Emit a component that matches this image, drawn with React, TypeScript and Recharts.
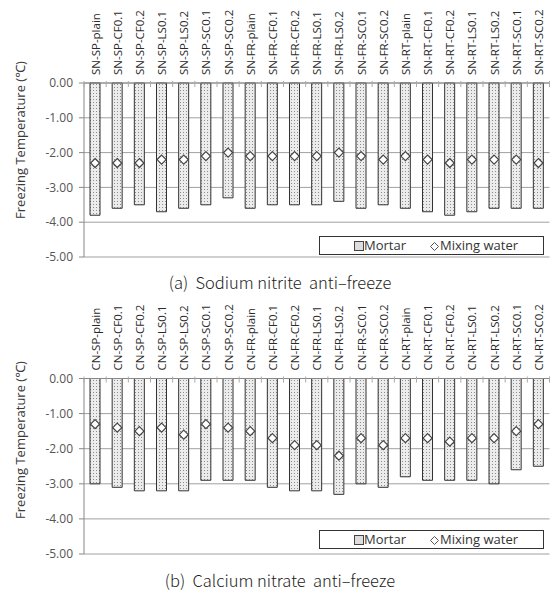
import React from 'react';
import { ComposedChart, Bar, Line, XAxis, YAxis, CartesianGrid } from 'recharts';

// category labels for the two anti-freeze series
const snCategories = [
  'SN-SP-plain', 'SN-SP-CF0.1', 'SN-SP-CF0.2', 'SN-SP-LS0.1', 'SN-SP-LS0.2', 'SN-SP-SC0.1', 'SN-SP-SC0.2',
  'SN-FR-plain', 'SN-FR-CF0.1', 'SN-FR-CF0.2', 'SN-FR-LS0.1', 'SN-FR-LS0.2', 'SN-FR-SC0.1', 'SN-FR-SC0.2',
  'SN-RT-plain', 'SN-RT-CF0.1', 'SN-RT-CF0.2', 'SN-RT-LS0.1', 'SN-RT-LS0.2', 'SN-RT-SC0.1', 'SN-RT-SC0.2',
];
const snMortar = [-3.8, -3.6, -3.5, -3.7, -3.6, -3.5, -3.3, -3.6, -3.5, -3.5, -3.5, -3.4, -3.6, -3.5, -3.6, -3.7, -3.8, -3.7, -3.6, -3.6, -3.6];
const snWater = [-2.3, -2.3, -2.3, -2.2, -2.2, -2.1, -2.0, -2.1, -2.1, -2.1, -2.1, -2.0, -2.1, -2.2, -2.1, -2.2, -2.3, -2.2, -2.2, -2.2, -2.3];

const cnCategories = [
  'CN-SP-plain', 'CN-SP-CF0.1', 'CN-SP-CF0.2', 'CN-SP-LS0.1', 'CN-SP-LS0.2', 'CN-SP-SC0.1', 'CN-SP-SC0.2',
  'CN-FR-plain', 'CN-FR-CF0.1', 'CN-FR-CF0.2', 'CN-FR-LS0.1', 'CN-FR-LS0.2', 'CN-FR-SC0.1', 'CN-FR-SC0.2',
  'CN-RT-plain', 'CN-RT-CF0.1', 'CN-RT-CF0.2', 'CN-RT-LS0.1', 'CN-RT-LS0.2', 'CN-RT-SC0.1', 'CN-RT-SC0.2',
];
const cnMortar = [-3.0, -3.1, -3.2, -3.2, -3.2, -2.9, -2.9, -2.9, -3.1, -3.2, -3.2, -3.3, -3.0, -3.1, -2.8, -2.9, -2.9, -2.9, -3.0, -2.6, -2.5];
const cnWater = [-1.3, -1.4, -1.5, -1.4, -1.6, -1.3, -1.4, -1.5, -1.7, -1.9, -1.9, -2.2, -1.7, -1.9, -1.7, -1.7, -1.8, -1.7, -1.7, -1.5, -1.3];

const yTicks = [0, -1, -2, -3, -4, -5];

const W = 551;
const H = 272;
const Y_W = 84;
const M_R = 1.5;
const BAND = (W - Y_W - M_R) / snCategories.length;
const FONT = '"Open Sans", "Noto Sans", sans-serif';

const CategoryTick = (props: any) => {
  const { x, y, payload, index, last } = props;
  const axisY = y + 8;
  return (
    <g>
      <line x1={x - BAND / 2} x2={x - BAND / 2} y1={axisY - 2} y2={axisY + 4} stroke="#aaa" />
      {index === last && <line x1={x + BAND / 2} x2={x + BAND / 2} y1={axisY - 2} y2={axisY + 4} stroke="#aaa" />}
      <text x={x} y={y} transform={`rotate(-90 ${x} ${y})`} textAnchor="start" dominantBaseline="central"
        fontSize={11.5} fill="#2a2a2a" fontFamily={FONT}>
        {payload.value}
      </text>
    </g>
  );
};

const Diamond = (props: any) => {
  const { cx, cy } = props;
  if (cx == null || cy == null) return null;
  const r = 4.5;
  return <polygon points={`${cx},${cy - r} ${cx + r},${cy} ${cx},${cy + r} ${cx - r},${cy}`} fill="#fff" stroke="#444" strokeWidth={1.2} />;
};

const Legend = ({ top, left }: { top: number; left: number }) => (
  <div style={{ position: 'absolute', top, left, width: 223, height: 17, border: '1px solid #333', background: '#fff', fontFamily: FONT, fontSize: 13, color: '#333' }}>
    <svg width={10} height={10} style={{ position: 'absolute', left: 34, top: 4 }}>
      <rect x={0.5} y={0.5} width={9} height={9} fill="#ddd" stroke="#444" />
    </svg>
    <span style={{ position: 'absolute', left: 44, top: -1 }}>Mortar</span>
    <svg width={9} height={9} style={{ position: 'absolute', left: 110, top: 5 }}>
      <polygon points="4.5,0.5 8.5,4.5 4.5,8.5 0.5,4.5" fill="#fff" stroke="#555" />
    </svg>
    <span style={{ position: 'absolute', left: 120, top: -1 }}>Mixing water</span>
  </div>
);

const Panel = ({ id, categories, mortar, water, top, axisH, bottom, labelY, legendTop, caption, captionTop }: any) => {
  const data = categories.map((name: string, i: number) => ({ name, mortar: mortar[i], water: water[i] }));
  return (
    <div style={{ position: 'absolute', left: 0, top, width: W, height: H }}>
      <ComposedChart width={W} height={H} data={data} margin={{ top: 0, right: M_R, bottom, left: 0 }}>
        <defs>
          <pattern id={`dots-${id}`} width={3} height={3} patternUnits="userSpaceOnUse">
            <rect width={3} height={3} fill="#ececec" />
            <rect width={1} height={1} fill="#8c8c8c" />
          </pattern>
        </defs>
        <CartesianGrid vertical={false} stroke="#a0a0a0" />
        <XAxis dataKey="name" orientation="top" height={axisH} interval={0} tickSize={0} tickMargin={8}
          axisLine={{ stroke: '#888' }}
          tick={(p: any) => <CategoryTick {...p} last={categories.length - 1} />} />
        <YAxis type="number" domain={[-5, 0]} ticks={yTicks} width={Y_W} interval={0}
          tickFormatter={(v: number) => v.toFixed(2)} tickSize={5} tickMargin={6}
          axisLine={{ stroke: '#888' }} tickLine={{ stroke: '#888' }}
          tick={{ fontSize: 12, fill: '#555', fontFamily: FONT }} />
        <Bar dataKey="mortar" barSize={10} fill={`url(#dots-${id})`} stroke="#333" strokeWidth={1} isAnimationActive={false} />
        <Line dataKey="water" stroke="none" dot={<Diamond />} activeDot={false} isAnimationActive={false} />
      </ComposedChart>
      <div style={{ position: 'absolute', left: 20, top: labelY, transform: 'translate(-50%, -50%) rotate(-90deg)', whiteSpace: 'nowrap', fontFamily: FONT, fontSize: 13, color: '#3a3a3a' }}>
        Freezing Temperature (℃)
      </div>
      <Legend top={legendTop} left={319} />
      <div style={{ position: 'absolute', left: 0, width: 560, top: captionTop, textAlign: 'center', fontFamily: '"Noto Sans CJK KR", sans-serif', fontSize: 16.5, fontWeight: 300, color: '#222', whiteSpace: 'pre' }}>
        {caption}
      </div>
    </div>
  );
};

export default function App() {
  return (
    <div style={{ position: 'absolute', left: 0, top: 0, width: W, height: 592, background: '#fff' }}>
      <Panel id="a" categories={snCategories} mortar={snMortar} water={snWater} top={0} axisH={83} bottom={H - 257}
        labelY={140} legendTop={236} caption="(a)  Sodium nitrite  anti–freeze" captionTop={270} />
      <Panel id="b" categories={cnCategories} mortar={cnMortar} water={cnWater} top={296} axisH={82.5} bottom={H - 258}
        labelY={144} legendTop={234} caption="(b)  Calcium nitrate  anti–freeze" captionTop={272} />
    </div>
  );
}
